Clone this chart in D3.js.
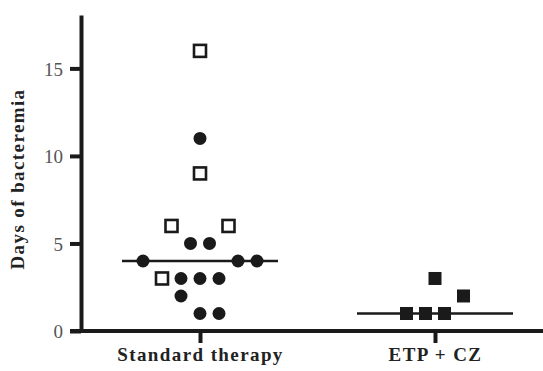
<!DOCTYPE html>
<html lang="en">
<head>
    <meta charset="UTF-8" />
    <title>Days of bacteremia</title>
    <style>
        body, html { margin: 0; padding: 0; background: white; }
        svg { display: block; }
    </style>
</head>
<body>
    <svg id="svg" width="543" height="371"></svg>
    <script src="https://cdn.jsdelivr.net/npm/d3@7"></script>
    <script>
        // categories and tick labels
        const groups = ["Standard therapy", "ETP + CZ"];
        const yTicks = [0, 5, 10, 15];
        const medians = [4, 1];

        // each point: days, horizontal slot offset (jitter), marker type
        const standardDays   = [16, 11, 9, 6, 6, 5, 5, 4, 4, 4, 3, 3, 3, 3, 2, 1, 1];
        const standardSlot   = [0, 0, 0, -1.5, 1.5, -0.5, 0.5, -3, 2, 3, -2, -1, 0, 1, -1, 0, 1];
        const standardMarker = ["open", "dot", "open", "open", "open", "dot", "dot", "dot", "dot", "dot",
                                "open", "dot", "dot", "dot", "dot", "dot", "dot"];
        const etpDays   = [3, 2, 1, 1, 1];
        const etpSlot   = [0, 1.5, -1.5, -0.5, 0.5];
        const etpMarker = ["filled", "filled", "filled", "filled", "filled"];

        const points = [];
        standardDays.forEach((d, i) => points.push({ g: groups[0], days: d, slot: standardSlot[i], m: standardMarker[i] }));
        etpDays.forEach((d, i) => points.push({ g: groups[1], days: d, slot: etpSlot[i], m: etpMarker[i] }));

        const margin = { top: 15, right: 0, bottom: 40, left: 81 };
        const W = 543, H = 371;
        const width = W - margin.left - margin.right;
        const height = H - margin.top - margin.bottom;
        const serif = "'Liberation Serif', 'DejaVu Serif', serif";

        const svg = d3.select("#svg")
            .append("g")
            .attr("transform", `translate(${margin.left},${margin.top})`);

        const x = d3.scalePoint().domain(groups).range([119, 354]);
        const slot = d3.scaleLinear().domain([0, 1]).range([0, 19]);
        const y = d3.scaleLinear().domain([0, 18.05]).range([height, 0]);

        // y axis
        const yAxis = svg.append("g")
            .call(d3.axisLeft(y).tickValues(yTicks).tickSize(11).tickPadding(7).tickSizeOuter(0));
        yAxis.attr("font-family", serif).attr("font-size", 19);
        yAxis.select(".domain").attr("stroke", "#1a1a1a").attr("stroke-width", 4);
        yAxis.selectAll(".tick line").attr("stroke", "#1a1a1a").attr("stroke-width", 4);
        yAxis.selectAll(".tick text").attr("fill", "#555").attr("dy", "0.35em");

        // x axis
        const xAxis = svg.append("g")
            .attr("transform", `translate(0,${height})`)
            .call(d3.axisBottom(x).tickSize(12).tickPadding(5).tickSizeOuter(0));
        xAxis.attr("font-family", serif).attr("font-size", 19).attr("font-weight", "bold");
        xAxis.select(".domain").attr("d", `M-11,0H${width}`).attr("stroke", "#1a1a1a").attr("stroke-width", 4);
        xAxis.selectAll(".tick line").attr("stroke", "#1a1a1a").attr("stroke-width", 4);
        xAxis.selectAll(".tick text").attr("fill", "#222").style("letter-spacing", "1.4px");

        // y label
        svg.append("text")
            .attr("transform", "rotate(-90)")
            .attr("x", -(y(0) + y(18.05)) / 2 - 6)
            .attr("y", -57)
            .attr("text-anchor", "middle")
            .attr("font-family", serif)
            .attr("font-size", 19)
            .attr("font-weight", "bold")
            .attr("fill", "#222")
            .style("letter-spacing", "1.4px")
            .text("Days of bacteremia");

        // median lines
        svg.selectAll(".median")
            .data(groups)
            .enter()
            .append("line")
            .attr("x1", (d) => x(d) - 78)
            .attr("x2", (d) => x(d) + 78)
            .attr("y1", (d, i) => y(medians[i]))
            .attr("y2", (d, i) => y(medians[i]))
            .attr("stroke", "#1a1a1a")
            .attr("stroke-width", 2.5);

        // points
        const px = (d) => x(d.g) + slot(d.slot);
        svg.selectAll(".dot")
            .data(points.filter((d) => d.m === "dot"))
            .enter()
            .append("circle")
            .attr("cx", px)
            .attr("cy", (d) => y(d.days))
            .attr("r", 6.5)
            .attr("fill", "#1a1a1a");

        svg.selectAll(".open")
            .data(points.filter((d) => d.m === "open"))
            .enter()
            .append("rect")
            .attr("x", (d) => px(d) - 6)
            .attr("y", (d) => y(d.days) - 6)
            .attr("width", 12)
            .attr("height", 12)
            .attr("fill", "white")
            .attr("stroke", "#1a1a1a")
            .attr("stroke-width", 2.6);

        svg.selectAll(".filled")
            .data(points.filter((d) => d.m === "filled"))
            .enter()
            .append("rect")
            .attr("x", (d) => px(d) - 6.5)
            .attr("y", (d) => y(d.days) - 6.5)
            .attr("width", 13)
            .attr("height", 13)
            .attr("fill", "#1a1a1a");
    </script>
</body>
</html>
